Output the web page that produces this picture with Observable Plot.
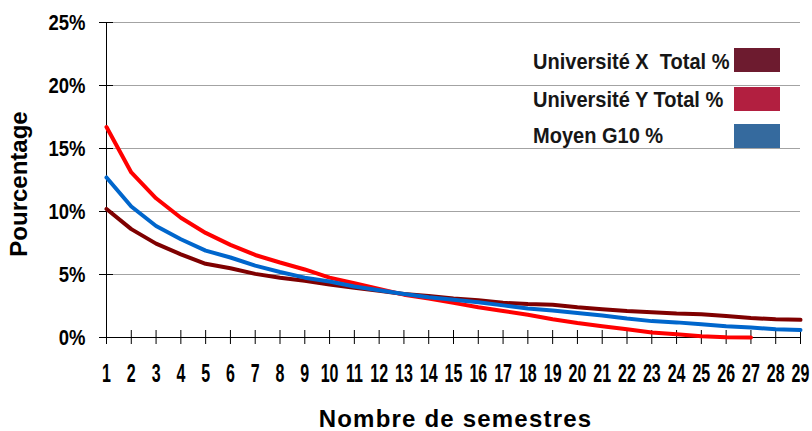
<!DOCTYPE html>
<html><head><meta charset="utf-8">
<script src="https://cdn.jsdelivr.net/npm/d3@7"></script>
<script src="https://cdn.jsdelivr.net/npm/@observablehq/plot@0.6"></script>
<style>
body{margin:0;background:#fff;}
#wrap{position:relative;width:812px;height:431px;overflow:hidden;}
#legend{position:absolute;left:0;top:0;width:812px;height:431px;font-family:"Liberation Sans",Arial,sans-serif;font-weight:bold;font-size:22px;line-height:22px;color:#161616;pointer-events:none;}
.row{position:absolute;left:533px;white-space:pre;transform:scaleX(0.91);transform-origin:0 50%;}
.sw{position:absolute;left:734px;width:46px;height:24px;}
</style></head><body><div id="wrap"><div id="legend"></div></div>
<script>
const semestres = [1,2,3,4,5,6,7,8,9,10,11,12,13,14,15,16,17,18,19,20,21,22,23,24,25,26,27,28,29];
const univX = [10.2,8.6,7.45,6.6,5.85,5.5,5.05,4.75,4.5,4.2,3.95,3.7,3.45,3.3,3.1,2.95,2.75,2.65,2.6,2.4,2.25,2.1,2.0,1.9,1.85,1.7,1.55,1.45,1.4];
const univY = [16.7,13.1,11.05,9.5,8.3,7.35,6.55,5.95,5.4,4.75,4.3,3.85,3.4,3.1,2.75,2.4,2.1,1.8,1.45,1.15,0.9,0.65,0.4,0.25,0.1,0.02,0.0];
const g10 = [12.7,10.4,8.85,7.8,6.9,6.35,5.7,5.2,4.75,4.45,4.05,3.75,3.45,3.2,3.0,2.8,2.55,2.3,2.15,1.95,1.75,1.5,1.3,1.2,1.05,0.9,0.8,0.65,0.6];
const yTicks = [0,5,10,15,20,25];
const seriesNames = ["Université X  Total %","Université Y Total %","Moyen G10 %"];
const lineColors = ["#7f0000","#ff0000","#0066cc"];
const swatchColors = ["#6d1b2f","#b21f40","#356a9e"];
const xTitle = "Nombre de semestres";
const yTitle = "Pourcentage";

const font = "'Liberation Sans',Arial,sans-serif";

const toRows = (vals, name) => vals.map((v, i) => ({semestre: semestres[i], pct: v, serie: name}));
const rows = [
  ...toRows(univX, seriesNames[0]),
  ...toRows(univY, seriesNames[1]),
  ...toRows(g10, seriesNames[2])
];

const chart = Plot.plot({
  width: 812,
  height: 431,
  marginLeft: 106,
  marginRight: 12,
  marginTop: 22,
  marginBottom: 94,
  x: {domain: [1, 29]},
  y: {domain: [0, 25]},
  color: {domain: seriesNames, range: lineColors},
  style: {background: "#fff"},
  marks: [
    Plot.ruleY(yTicks.filter(d => d > 0), {y: d => d, stroke: "#a3a3a3", strokeWidth: 1}),
    Plot.ruleX([1], {x: d => d, stroke: "#000", strokeWidth: 1}),
    Plot.ruleY([0], {y: d => d, stroke: "#000", strokeWidth: 1}),
    Plot.ruleX(semestres, {x: d => d, y1: () => 0, y2: () => 0, insetTop: -7, insetBottom: -7, stroke: "#000", strokeWidth: 1}),
    Plot.ruleY(yTicks, {y: d => d, x1: () => 1, x2: () => 1, insetLeft: -7, insetRight: -7, stroke: "#000", strokeWidth: 1}),
    Plot.line(rows, {x: "semestre", y: "pct", z: "serie", stroke: "serie", strokeWidth: 4, strokeLinejoin: "round"}),
    Plot.axisX({ticks: semestres, tickSize: 0, tickPadding: 27, tickFormat: d => String(d), fontSize: 25, fontWeight: "bold", fontFamily: font, fill: "#000", label: null}),
    Plot.axisY({ticks: yTicks, tickSize: 0, tickPadding: 21, tickFormat: d => d + "%", fontSize: 22, fontWeight: "bold", fontFamily: font, fill: "#000", label: null}),
    Plot.text([xTitle], {text: d => d, frameAnchor: "bottom", dy: 82, dx: 2, fontSize: 24, fontWeight: "bold", fontFamily: font, fill: "#000", lineAnchor: "middle", textAnchor: "middle"}),
    Plot.text([yTitle], {text: d => d, frameAnchor: "left", dx: -87, dy: 4, rotate: -90, fontSize: 24, fontWeight: "bold", fontFamily: font, fill: "#000", lineAnchor: "middle", textAnchor: "middle"})
  ]
});
const wrap = document.getElementById("wrap");
wrap.insertBefore(chart, wrap.firstChild);
chart.style.position = "absolute";
chart.style.left = "0"; chart.style.top = "0";

// condensed look for tick labels
function condense(sel, k) {
  d3.select(chart).selectAll(sel).each(function() {
    const t = this.getAttribute("transform");
    if (t && t.includes("translate")) this.setAttribute("transform", t + ` scale(${k},1)`);
  });
}
condense('g[aria-label="x-axis tick label"] text', 0.64);
condense('g[aria-label="y-axis tick label"] text', 0.84);
d3.select(chart).selectAll("text").filter(function() { return this.textContent === xTitle; })
  .style("letter-spacing", "1.2px");

const legend = document.getElementById("legend");
const textTops = [50.5, 88.5, 124.5];
const swTops = [48, 87, 124];
seriesNames.forEach((name, i) => {
  const r = document.createElement("div");
  r.className = "row"; r.style.top = textTops[i] + "px"; r.textContent = name;
  legend.appendChild(r);
  const s = document.createElement("div");
  s.className = "sw"; s.style.top = swTops[i] + "px"; s.style.background = swatchColors[i];
  legend.appendChild(s);
});
</script>
</body></html>
